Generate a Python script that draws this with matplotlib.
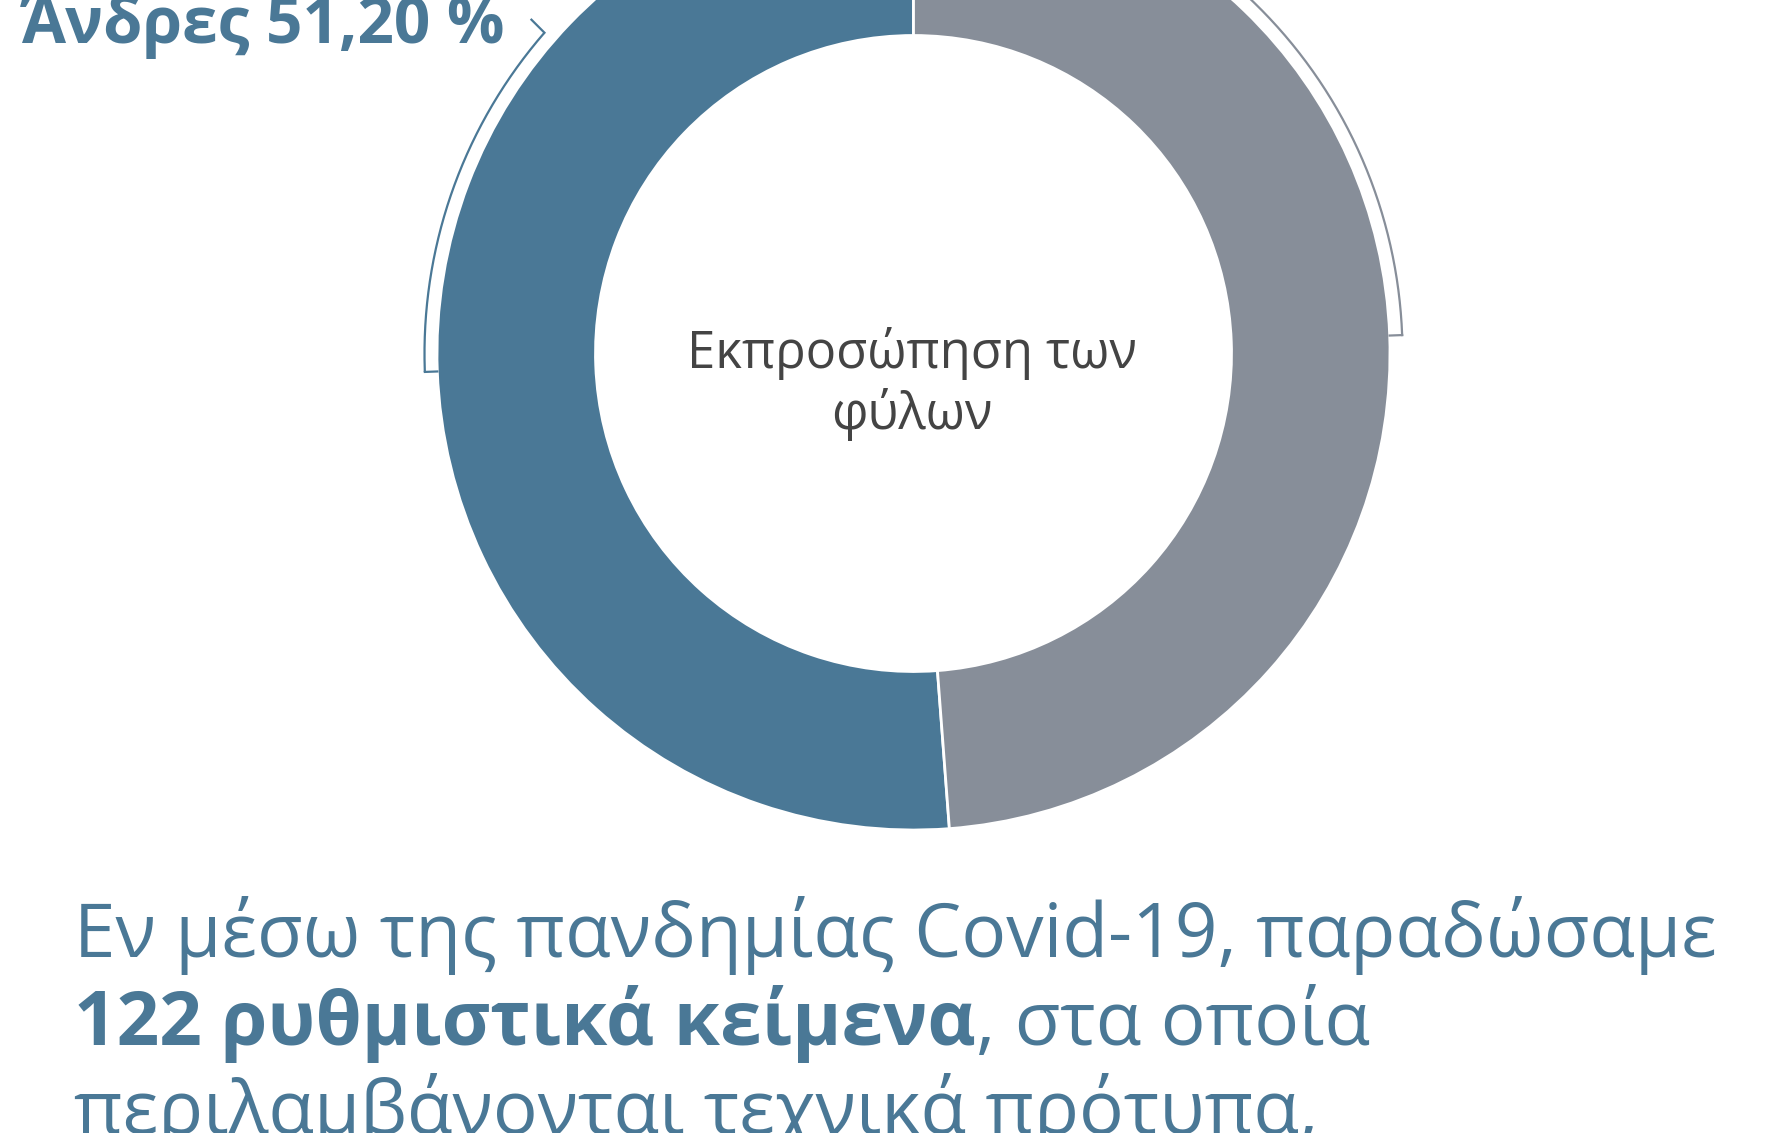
import matplotlib
matplotlib.use("Agg")
import matplotlib.pyplot as plt
import numpy as np

# ---- data ----
categories = ["Άνδρες", "Γυναίκες"]
values = [51.20, 48.80]
colors = ["#4a7896", "#878e99"]
center_title = "Εκπροσώπηση των\nφύλων"
men_label = "Άνδρες 51,20 %"
para_line1 = "Εν μέσω της πανδημίας Covid-19, παραδώσαμε"
para_line2_bold = "122 ρυθμιστικά κείμενα"
para_line2_rest = ", στα οποία"
para_line3 = "περιλαμβάνονται τεχνικά πρότυπα,"

W, H = 1769, 1133
plt.rcParams['font.family'] = ['Open Sans', 'DejaVu Sans']

fig = plt.figure(figsize=(W / 100, H / 100), dpi=100)
ax = fig.add_axes([0, 0, 1, 1])

cx, cy = 913.5, H - 353.5
R_out, R_in = 476.5, 318.0

wedges, _ = ax.pie(values, startangle=90, counterclock=True, radius=R_out,
                   center=(cx, cy), colors=colors,
                   wedgeprops=dict(width=R_out - R_in, edgecolor='white', linewidth=2))
ax.set_xlim(0, W)
ax.set_ylim(0, H)
ax.set_aspect('equal')
ax.axis('off')

# bracket arcs
total = sum(values)
R_br = 489.0
start = 90.0
mids = []
for v in values:
    span = 360.0 * v / total
    mids.append(start + span / 2)
    start += span

# men: arc from label connector to mid angle
kink_ang = 139.0
th = np.radians(np.linspace(kink_ang, mids[0], 200))
ax.plot(cx + R_br * np.cos(th), cy + R_br * np.sin(th), color=colors[0], lw=1.6,
        solid_capstyle='butt')
m = np.radians(mids[0])
ax.plot([cx + R_br * np.cos(m), cx + R_out * np.cos(m)],
        [cy + R_br * np.sin(m), cy + R_out * np.sin(m)], color=colors[0], lw=1.6)
k = np.radians(kink_ang)
kx, ky = cx + R_br * np.cos(k), cy + R_br * np.sin(k)
ax.plot([kx, kx - 13], [ky, ky + 13], color=colors[0], lw=1.6)

# women: arc from top to mid angle
mw = mids[1] - 360.0
th = np.radians(np.linspace(mw, 90.0, 200))
ax.plot(cx + R_br * np.cos(th), cy + R_br * np.sin(th), color=colors[1], lw=1.6)
m = np.radians(mw)
ax.plot([cx + R_br * np.cos(m), cx + R_out * np.cos(m)],
        [cy + R_br * np.sin(m), cy + R_out * np.sin(m)], color=colors[1], lw=1.6)

# labels
ax.text(22, H - 43, men_label, fontsize=46, fontweight='bold', color=colors[0],
        ha='left', va='baseline')

ax.text(cx - 2, H - 368, center_title.split("\n")[0], fontsize=36.5, color='#444444',
        ha='center', va='baseline')
ax.text(cx - 2, H - 429, center_title.split("\n")[1], fontsize=36.5, color='#444444',
        ha='center', va='baseline')

# paragraph
fs = 53.7
x0 = 74
ax.text(x0, H - 957, para_line1, fontsize=fs, color=colors[0], ha='left', va='baseline')
tb = ax.text(x0, H - 1045, para_line2_bold, fontsize=fs, fontweight='bold',
             color=colors[0], ha='left', va='baseline')
fig.canvas.draw()
bb = tb.get_window_extent()
ax.text(bb.x1, H - 1045, para_line2_rest, fontsize=fs, color=colors[0], ha='left',
        va='baseline')
ax.text(x0, H - 1134, para_line3, fontsize=fs, color=colors[0], ha='left', va='baseline')

fig.savefig("out.png", dpi=100)
